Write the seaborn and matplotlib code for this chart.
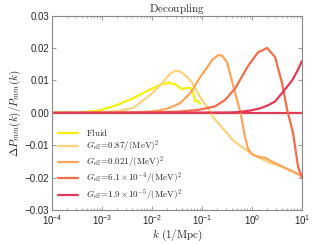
import numpy as np
import pandas as pd
import matplotlib
matplotlib.use('Agg')
import matplotlib.pyplot as plt
import seaborn as sns

# log10(k) and dP/P
fluid_logk = [-4.0, -3.44, -3.04, -2.74, -2.38, -2.04, -1.84, -1.68, -1.54, -1.40, -1.32, -1.24, -1.18, -1.14, -1.08, -1.04]
fluid_val = [0.0, 0.0001, 0.0008, 0.0022, 0.0045, 0.0072, 0.0086, 0.0093, 0.0088, 0.0073, 0.0077, 0.0077, 0.0062, 0.0036, 0.0036, 0.0028]

g087_logk = [-4.0, -3.04, -2.7, -2.38, -2.04, -1.84, -1.64, -1.54, -1.44, -1.30, -1.20, -1.04, -0.90, -0.78, -0.64, -0.38, -0.04, 0.16, 0.36, 0.62, 0.96, 1.0]
g087_val = [0.0, 0.0001, 0.0005, 0.0015, 0.0055, 0.0085, 0.0120, 0.0130, 0.0128, 0.0111, 0.0092, 0.0049, 0.0018, -0.0013, -0.0038, -0.0085, -0.0124, -0.0140, -0.0155, -0.0167, -0.0192, -0.0200]

g021_logk = [-4.0, -2.44, -2.04, -1.84, -1.64, -1.44, -1.24, -1.04, -0.90, -0.80, -0.68, -0.60, -0.50, -0.38, -0.24, -0.14, -0.08, 0.02, 0.16, 0.26, 0.36, 0.62, 0.96, 1.0]
g021_val = [0.0, 0.0001, 0.0004, 0.0008, 0.0016, 0.0030, 0.0060, 0.0110, 0.0140, 0.0163, 0.0178, 0.0177, 0.0155, 0.0085, 0.0005, -0.0075, -0.0112, -0.0130, -0.0137, -0.0138, -0.0148, -0.0167, -0.0192, -0.0200]

g61_logk = [-4.0, -2.04, -1.44, -1.04, -0.74, -0.54, -0.34, -0.08, 0.12, 0.30, 0.46, 0.60, 0.70, 0.82, 0.92, 1.0]
g61_val = [0.0, 0.0001, 0.0004, 0.0010, 0.0020, 0.0040, 0.0075, 0.0145, 0.0187, 0.0200, 0.0172, 0.0091, 0.0010, -0.0063, -0.0167, -0.0200]

g19_logk = [-4.0, -0.44, -0.24, -0.04, 0.16, 0.30, 0.46, 0.62, 0.80, 0.90, 1.0]
g19_val = [0.0, 0.0001, 0.0003, 0.0007, 0.0014, 0.0022, 0.0035, 0.0065, 0.0100, 0.0128, 0.0160]

labels = [r'$\mathrm{Fluid}$',
          r'$G_{\rm eff}\!=\!0.87/(\mathrm{MeV})^2$',
          r'$G_{\rm eff}\!=\!0.021/(\mathrm{MeV})^2$',
          r'$G_{\rm eff}\!=\!6.1\times\!10^{-4}/(\mathrm{MeV})^2$',
          r'$G_{\rm eff}\!=\!1.9\times\!10^{-5}/(\mathrm{MeV})^2$']
colors = ['#f6f00c', '#fdd27e', '#fba55a', '#f36d48', '#e13a55']

frames = []
for lab, lk, v in zip(labels,
                      [fluid_logk, g087_logk, g021_logk, g61_logk, g19_logk],
                      [fluid_val, g087_val, g021_val, g61_val, g19_val]):
    frames.append(pd.DataFrame({'k': 10 ** np.array(lk), 'dP': v, 'model': lab}))
df = pd.concat(frames, ignore_index=True)

sns.set_style('ticks')
plt.rcParams['mathtext.fontset'] = 'cm'
plt.rcParams['font.family'] = ['Liberation Sans', 'DejaVu Sans']

fig, ax = plt.subplots(figsize=(3.16, 2.44), dpi=100)
fig.subplots_adjust(left=0.165, right=0.956, top=0.936, bottom=0.139)

sns.lineplot(data=df, x='k', y='dP', hue='model', hue_order=labels,
             palette=colors, lw=1.6, sort=False, estimator=None, ax=ax)
ax.axhline(0, color=colors[4], lw=1.6, zorder=1)

ax.set_xscale('log')
ax.set_xlim(1e-4, 10)
ax.set_ylim(-0.03, 0.03)
ax.set_yticks([-0.03, -0.02, -0.01, 0.0, 0.01, 0.02, 0.03])
ax.set_xlabel(r'$k\ (1/\mathrm{Mpc})$', fontsize=8, labelpad=1)
ax.set_ylabel(r'$\Delta P_{mm}(k)/P_{mm}(k)$', fontsize=8, labelpad=1)
ax.set_title(r'$\mathrm{Decoupling}$', fontsize=8, pad=1)
ax.tick_params(labelsize=7, direction='in', top=True, right=True, length=3, width=0.6, color='#888888', pad=2)
ax.tick_params(which='minor', direction='in', top=True, length=1.5, width=0.5, color='#888888')
for s in ax.spines.values():
    s.set_color('#888888')
    s.set_linewidth(0.8)

ax.legend(frameon=False, fontsize=6.5, loc='upper left', bbox_to_anchor=(0.0, 0.46),
          handlelength=2.2, labelspacing=0.1, borderaxespad=0.3)

fig.savefig('out.png', dpi=100)
